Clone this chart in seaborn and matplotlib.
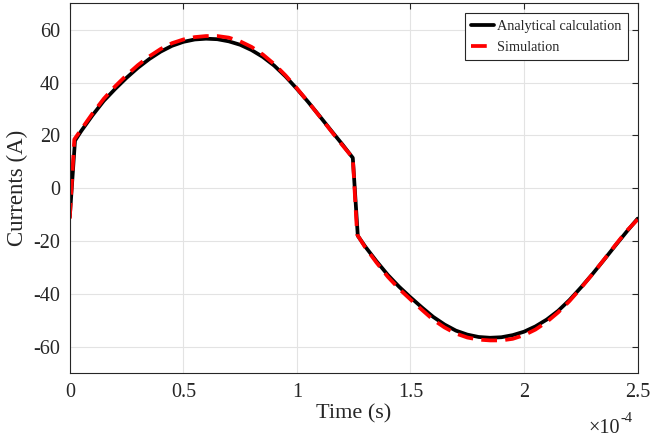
import numpy as np
import pandas as pd
import seaborn as sns
import matplotlib.pyplot as plt

# time in units of 1e-4 s, current in A
t_calc = [0.0, 0.023, 0.05, 0.1, 0.15, 0.2, 0.25, 0.3, 0.35, 0.4, 0.45, 0.5,
          0.55, 0.6, 0.65, 0.7, 0.75, 0.8, 0.85, 0.9, 0.95, 1.0, 1.05, 1.1,
          1.15, 1.2, 1.246, 1.268, 1.3, 1.35, 1.4, 1.45, 1.5, 1.55, 1.6, 1.65,
          1.7, 1.75, 1.8, 1.85, 1.9, 1.95, 2.0, 2.05, 2.1, 2.15, 2.2, 2.25,
          2.3, 2.35, 2.4, 2.45, 2.5]
i_calc = [-10.9, 18.0, 21.6, 27.6, 33.1, 37.6, 41.8, 45.6, 48.9, 51.7, 53.9, 55.4,
          56.3, 56.6, 56.4, 55.6, 54.3, 52.3, 49.7, 46.4, 42.3, 37.6, 32.6, 27.3,
          21.9, 16.6, 11.5, -18.0, -22.0, -27.6, -32.8, -37.3, -41.3, -45.1, -48.7, -51.6,
          -53.9, -55.4, -56.3, -56.6, -56.4, -55.6, -54.3, -52.3, -49.7, -46.4, -42.3, -37.6,
          -32.6, -27.3, -21.9, -16.6, -11.5]

t_sim = [0.0, 0.02, 0.05, 0.1, 0.15, 0.2, 0.25, 0.3, 0.35, 0.4, 0.45, 0.5,
         0.55, 0.6, 0.65, 0.7, 0.75, 0.8, 0.85, 0.9, 0.95, 1.0, 1.05, 1.1,
         1.15, 1.2, 1.246, 1.265, 1.3, 1.35, 1.4, 1.45, 1.5, 1.55, 1.6, 1.65,
         1.7, 1.75, 1.8, 1.85, 1.9, 1.95, 2.0, 2.05, 2.1, 2.15, 2.2, 2.25,
         2.3, 2.35, 2.4, 2.45, 2.5]
i_sim = [-11.5, 18.5, 22.2, 28.3, 33.9, 38.6, 42.8, 46.6, 49.9, 52.7, 54.9, 56.3,
         57.2, 57.6, 57.6, 57.0, 55.6, 53.5, 50.6, 47.0, 42.7, 37.8, 32.6, 27.2,
         21.7, 16.3, 11.5, -17.5, -22.3, -28.1, -33.5, -38.1, -42.1, -46.0, -49.8, -52.7,
         -55.0, -56.5, -57.3, -57.6, -57.6, -57.0, -55.6, -53.5, -50.6, -47.0, -42.7, -37.8,
         -32.6, -27.2, -21.7, -16.3, -11.8]

labels = ["Analytical calculation", "Simulation"]
x_ticks = [0, 0.5, 1, 1.5, 2, 2.5]
y_ticks = [-60, -40, -20, 0, 20, 40, 60]

df = pd.concat([
    pd.DataFrame({"t": t_calc, "i": i_calc, "series": labels[0]}),
    pd.DataFrame({"t": t_sim, "i": i_sim, "series": labels[1]}),
])

sns.set_style("whitegrid")
plt.rcParams["font.family"] = ["Liberation Serif", "DejaVu Serif"]
plt.rcParams["axes.unicode_minus"] = False

fig = plt.figure(figsize=(6.52, 4.38), dpi=100)
ax = fig.add_axes([0.107, 0.148, 0.871, 0.8445])

sns.lineplot(data=df, x="t", y="i", hue="series", style="series",
             palette={labels[0]: "black", labels[1]: "#ff0000"},
             dashes={labels[0]: "", labels[1]: (4.2, 2.2)},
             linewidth=2.7, sort=False, ax=ax)

ax.set_xlim(0, 2.5)
ax.set_ylim(-70, 70)
ax.set_xticks(x_ticks)
ax.set_xticklabels(["%g" % v for v in x_ticks])
ax.set_yticks(y_ticks)
ax.set_yticklabels(["%g" % v for v in y_ticks])

ax.grid(True, color="#e3e3e3", linewidth=0.8)
for s in ax.spines.values():
    s.set_visible(True)
    s.set_color("#262626")
    s.set_linewidth(0.8)
ax.tick_params(direction="in", length=4, width=0.8, colors="#262626",
               labelcolor="#262626", labelsize=14.5, top=True, right=True,
               pad=7)

ax.set_xlabel("Time (s)", fontsize=16, color="#262626", labelpad=2)
ax.set_ylabel("Currents (A)", fontsize=16.5, color="#262626", labelpad=4)

# MATLAB style exponent under the x axis
ax.text(0.969, -0.125, "×10", transform=ax.transAxes, ha="right", va="top",
        fontsize=14.5, color="#262626")
ax.text(0.969, -0.105, "-4", transform=ax.transAxes, ha="left", va="top",
        fontsize=10.5, color="#262626")

leg = ax.legend(loc="upper right", fontsize=10.3, frameon=True, fancybox=False,
                edgecolor="#262626", framealpha=1, handlelength=1.6,
                handletextpad=0.2, labelspacing=0.55, borderpad=0.45,
                borderaxespad=0.7)
leg.get_frame().set_linewidth(0.8)

fig.savefig("out.png", dpi=100)
